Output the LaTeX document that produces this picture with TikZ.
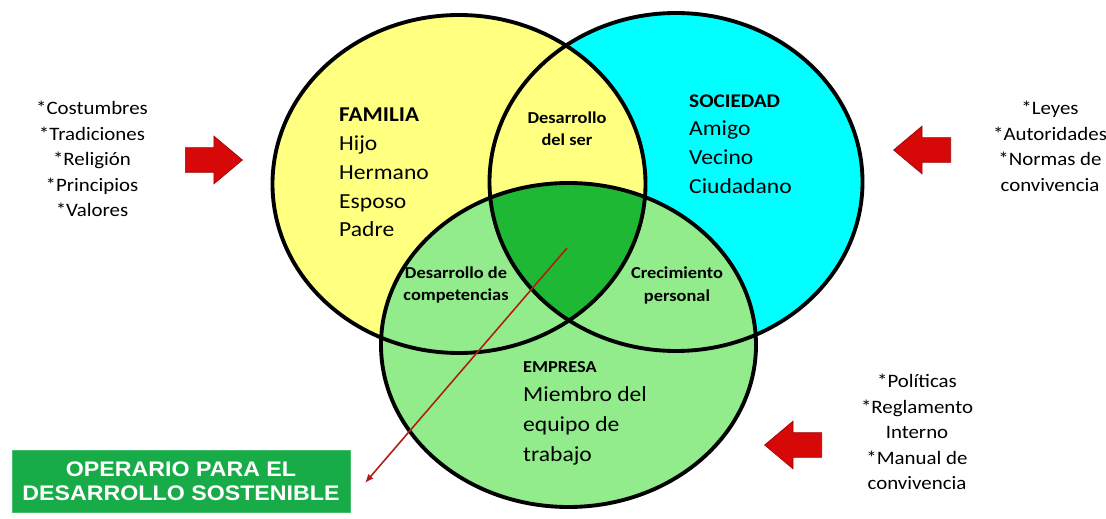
\documentclass[tikz,border=0pt]{standalone}
\usepackage{fontspec}
\setmainfont{Carlito}[FakeStretch=1.1]
\newfontfamily\boxfont{Liberation Sans}[FakeStretch=1.1]
\usetikzlibrary{shapes.arrows,arrows.meta}
\definecolor{famyellow}{RGB}{255,255,128}
\definecolor{soccyan}{RGB}{0,255,255}
\definecolor{emplight}{RGB}{146,236,140}
\definecolor{empdark}{RGB}{30,184,52}
\definecolor{boxgreen}{RGB}{24,172,72}
\definecolor{arrred}{RGB}{214,8,8}
\definecolor{linered}{RGB}{175,30,20}
\def\rx{3.73}
\def\ry{3.38}
\tikzset{
	ring/.style={line width=2.2pt, draw=black},
	bigarrow/.style={single arrow, fill=arrred, draw=arrred!75!black, line width=0.4pt, minimum height=1.14cm, minimum width=0.94cm, inner xsep=0pt, inner ysep=0.24cm, single arrow head extend=0.23cm, single arrow tip angle=80},
	listtext/.style={align=center, font=\fontsize{10.8}{14.6}\selectfont},
	roletext/.style={align=left, anchor=west, font=\fontsize{12.2}{16.4}\selectfont},
	overlap/.style={align=center, font=\bfseries\fontsize{9.5}{12.6}\selectfont},
}

\begin{document}
\begin{tikzpicture}
	%%%%% START %%%%%
	\useasboundingbox[fill=white] (0, 0) rectangle (22.12, 10.36);
	
	\coordinate (fam) at (9.18, 6.68);
	\coordinate (soc) at (13.52, 6.72);
	\coordinate (emp) at (11.37, 3.46);
	
	\fill[soccyan] (soc) ellipse [x radius=\rx, y radius=\ry];
	\fill[famyellow] (fam) ellipse [x radius=\rx, y radius=\ry];
	\fill[emplight] (emp) ellipse [x radius=3.75, y radius=3.24];
	\begin{scope}
		\clip (fam) ellipse [x radius=\rx, y radius=\ry];
		\clip (soc) ellipse [x radius=\rx, y radius=\ry];
		\fill[empdark] (emp) ellipse [x radius=3.75, y radius=3.24];
	\end{scope}
	
	\draw[ring] (soc) ellipse [x radius=\rx, y radius=\ry];
	\draw[ring] (fam) ellipse [x radius=\rx, y radius=\ry];
	\draw[ring] (emp) ellipse [x radius=3.75, y radius=3.24];
	
	\node[roletext] (familia) at (6.66, 6.91) {{\bfseries\fontsize{12}{16}\selectfont FAMILIA}\\Hijo\\Hermano\\Esposo\\Padre};
	\node[roletext] (sociedad) at (13.66, 7.48) {{\bfseries\fontsize{11}{15}\selectfont SOCIEDAD}\\Amigo\\Vecino\\Ciudadano};
	\node[roletext, font=\fontsize{12.2}{16.9}\selectfont] (empresa) at (10.34, 2.10) {{\bfseries\fontsize{9.5}{14}\selectfont EMPRESA}\\Miembro del\\equipo de\\trabajo};
	
	\node[overlap] (ser) at (11.34, 7.79) {Desarrollo\\del ser};
	\node[overlap] (competencias) at (9.12, 4.66) {Desarrollo de\\competencias};
	\node[overlap] (crecimiento) at (13.54, 4.65) {Crecimiento\\personal};
	
	\node[listtext] (valores) at (1.84, 7.18) {*Costumbres\\*Tradiciones\\*Religión\\*Principios\\*Valores};
	\node[listtext] (leyes) at (21.0, 7.43) {*Leyes\\*Autoridades\\*Normas de\\convivencia};
	\node[listtext] (politicas) at (18.34, 1.72) {*Políticas\\*Reglamento\\Interno\\*Manual de\\convivencia};
	
	\node[bigarrow] (arrfam) at (4.13, 7.16) {};
	\node[bigarrow, shape border rotate=180] (arrsoc) at (18.59, 7.36) {};
	\node[bigarrow, shape border rotate=180] (arremp) at (16.01, 1.46) {};
	
	\node[fill=boxgreen, draw=boxgreen!80!white, minimum width=6.76cm, minimum height=1.24cm, align=center, text=white, font=\boxfont\bfseries\fontsize{12}{13.6}\selectfont] (operario) at (3.62, 0.74) {OPERARIO PARA EL\\DESARROLLO SOSTENIBLE};
	
	\coordinate (core) at (11.34, 5.40);
	\coordinate (tip) at (7.30, 0.70);
	\draw[linered, line width=0.9pt, -{Latex[length=5pt, width=4pt]}] (core) -- (tip);
	%%%%% END %%%%%
\end{tikzpicture}
\end{document}
